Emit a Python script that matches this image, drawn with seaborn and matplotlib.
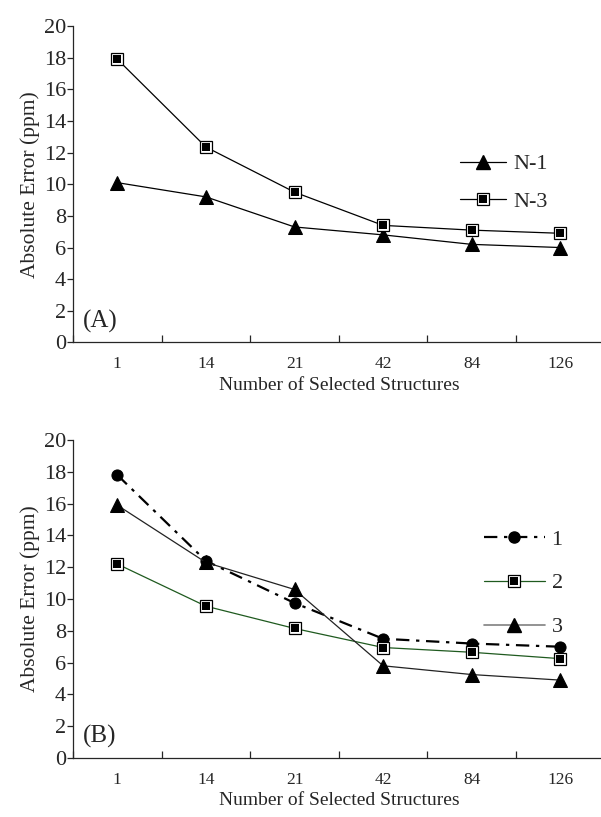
import numpy as np
import pandas as pd
import matplotlib
matplotlib.use("Agg")
import matplotlib.pyplot as plt
import seaborn as sns
from matplotlib.lines import Line2D
from matplotlib.legend_handler import HandlerTuple

# data
structures = ["1", "14", "21", "42", "84", "126"]

a_n1 = [10.1, 9.2, 7.3, 6.8, 6.2, 6.0]
a_n3 = [17.9, 12.35, 9.5, 7.4, 7.1, 6.9]

b_1 = [17.8, 12.4, 9.75, 7.5, 7.2, 7.0]
b_2 = [12.2, 9.55, 8.15, 6.95, 6.65, 6.25]
b_3 = [15.9, 12.3, 10.6, 5.8, 5.25, 4.9]

sns.set_style("ticks")
plt.rcParams["font.family"] = ["Liberation Serif", "DejaVu Serif"]

fig = plt.figure(figsize=(6.01, 8.17), dpi=100)
ax_a = fig.add_axes([0.1215, 0.5808, 0.8845, 0.3874])
ax_b = fig.add_axes([0.1215, 0.0722, 0.8845, 0.3892])

GREEN = "#1f5a1f"
tuple_handler = {tuple: HandlerTuple(ndivide=1, pad=0)}


def square_layers(ax, y, color="black"):
    # outlined square with a filled black core, drawn as two marker layers
    sns.lineplot(x=structures, y=y, ax=ax, sort=False, color=color, lw=0.9,
                 marker="s", markersize=9, markerfacecolor="white",
                 markeredgecolor="black", markeredgewidth=0.9)
    sns.lineplot(x=structures, y=y, ax=ax, sort=False, lw=0, marker="s",
                 markersize=6, markerfacecolor="black", markeredgecolor="black",
                 markeredgewidth=0)


def square_handle(color):
    big = Line2D([], [], color=color, lw=0.9, marker="s", markersize=9,
                 markerfacecolor="white", markeredgecolor="black", markeredgewidth=0.9)
    small = Line2D([], [], lw=0, marker="s", markersize=6, markerfacecolor="black",
                   markeredgewidth=0)
    return (big, small)


def style_axis(ax, tag):
    ax.set_xlim(-0.5, 5.5)
    ax.set_ylim(0, 20)
    ax.set_yticks(np.arange(0, 21, 2))
    ax.set_xticks(np.arange(-0.5, 6, 1))
    ax.set_xticklabels([])
    ax.set_xticks(np.arange(len(structures)), minor=True)
    ax.set_xticklabels(structures, minor=True, fontsize=12.5)
    ax.tick_params(axis="x", which="major", direction="in", length=5, width=0.9)
    ax.tick_params(axis="x", which="minor", length=0, pad=10)
    ax.tick_params(axis="y", direction="out", length=4, width=0.9, labelsize=16, pad=1)
    for s in ["top", "right"]:
        ax.spines[s].set_visible(False)
    for s in ["left", "bottom"]:
        ax.spines[s].set_linewidth(0.9)
    ax.set_xlabel("Number of Selected Structures", fontsize=14, labelpad=3)
    ax.set_ylabel("Absolute Error (ppm)", fontsize=15.5, labelpad=3)
    ax.text(0.018, 0.03, tag, transform=ax.transAxes, fontsize=18, ha="left", va="bottom")


# ---- panel A ----
sns.lineplot(x=structures, y=a_n1, ax=ax_a, sort=False, color="black", lw=0.9,
             marker="^", markersize=10, markerfacecolor="black", markeredgecolor="black")
square_layers(ax_a, a_n3)
style_axis(ax_a, "(A)")

h_n1 = Line2D([], [], color="black", lw=0.9, marker="^", markersize=10,
              markerfacecolor="black", markeredgecolor="black")
ax_a.legend([h_n1, square_handle("black")], ["N-1", "N-3"], handler_map=tuple_handler,
            loc="center left", bbox_to_anchor=(0.69, 0.505), frameon=False,
            fontsize=16, handlelength=2.1, handletextpad=0.3, labelspacing=0.75)

# ---- panel B ----
dash = (6, 3, 1.5, 3)
sns.lineplot(x=structures, y=b_1, ax=ax_b, sort=False, color="black", lw=1.6,
             marker="o", markersize=8, markerfacecolor="black", markeredgecolor="black")
ax_b.lines[-1].set_dashes(dash)
square_layers(ax_b, b_2, color=GREEN)
sns.lineplot(x=structures, y=b_3, ax=ax_b, sort=False, color="#222222", lw=0.9,
             marker="^", markersize=10, markerfacecolor="black", markeredgecolor="black")
style_axis(ax_b, "(B)")

h1 = Line2D([], [], color="black", lw=1.6, marker="o", markersize=8,
            markerfacecolor="black", markeredgecolor="black", dashes=dash)
h3 = Line2D([], [], color="#808080", lw=1.2, marker="^", markersize=10,
            markerfacecolor="black", markeredgecolor="black")
ax_b.legend([h1, square_handle(GREEN), h3], ["1", "2", "3"], handler_map=tuple_handler,
            loc="center left", bbox_to_anchor=(0.735, 0.55), frameon=False,
            fontsize=16, handlelength=2.75, handletextpad=0.3, labelspacing=1.05)

fig.savefig("out.png", dpi=100)
